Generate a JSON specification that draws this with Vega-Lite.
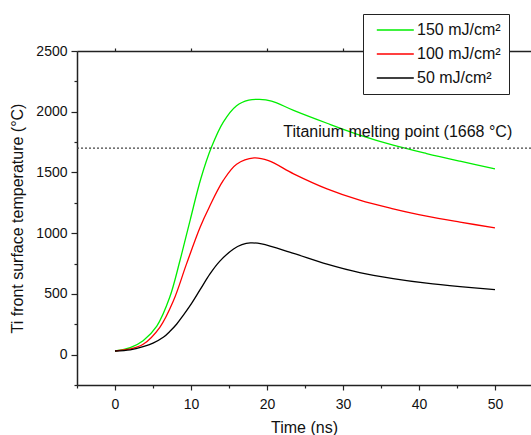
{
  "$schema": "https://vega.github.io/schema/vega-lite/v6.json",
  "width": 454,
  "height": 334,
  "autosize": {"type": "none"},
  "padding": {"left": 77, "top": 51, "right": 0, "bottom": 50},
  "background": "white",
  "config": {
    "view": {"stroke": null},
    "font": "Liberation Sans",
    "axis": {"grid": false, "domainColor": "#222", "tickColor": "#222", "labelColor": "#111", "titleColor": "#111", "domainWidth": 1.5, "tickWidth": 1.2, "titleFontWeight": "normal", "labelFont": "Liberation Sans", "titleFont": "Liberation Sans"}
  },
  "datasets": {
    "curves": [
      {"t": 0, "T": 30, "s": "150 mJ/cm²"},
      {"t": 2, "T": 58, "s": "150 mJ/cm²"},
      {"t": 3.7, "T": 115, "s": "150 mJ/cm²"},
      {"t": 5.5, "T": 235, "s": "150 mJ/cm²"},
      {"t": 7.2, "T": 472, "s": "150 mJ/cm²"},
      {"t": 8.55, "T": 775, "s": "150 mJ/cm²"},
      {"t": 9.9, "T": 1110, "s": "150 mJ/cm²"},
      {"t": 11.3, "T": 1450, "s": "150 mJ/cm²"},
      {"t": 12.7, "T": 1709, "s": "150 mJ/cm²"},
      {"t": 14.25, "T": 1915, "s": "150 mJ/cm²"},
      {"t": 16, "T": 2050, "s": "150 mJ/cm²"},
      {"t": 17.6, "T": 2095, "s": "150 mJ/cm²"},
      {"t": 19, "T": 2102, "s": "150 mJ/cm²"},
      {"t": 20.6, "T": 2088, "s": "150 mJ/cm²"},
      {"t": 23.5, "T": 2011, "s": "150 mJ/cm²"},
      {"t": 27.9, "T": 1905, "s": "150 mJ/cm²"},
      {"t": 32.2, "T": 1808, "s": "150 mJ/cm²"},
      {"t": 36.6, "T": 1725, "s": "150 mJ/cm²"},
      {"t": 41, "T": 1656, "s": "150 mJ/cm²"},
      {"t": 45.4, "T": 1593, "s": "150 mJ/cm²"},
      {"t": 50, "T": 1530, "s": "150 mJ/cm²"},
      {"t": 0, "T": 30, "s": "100 mJ/cm²"},
      {"t": 2, "T": 47, "s": "100 mJ/cm²"},
      {"t": 3.7, "T": 85, "s": "100 mJ/cm²"},
      {"t": 5.9, "T": 225, "s": "100 mJ/cm²"},
      {"t": 7.7, "T": 445, "s": "100 mJ/cm²"},
      {"t": 9.4, "T": 745, "s": "100 mJ/cm²"},
      {"t": 11.2, "T": 1049, "s": "100 mJ/cm²"},
      {"t": 12.4, "T": 1214, "s": "100 mJ/cm²"},
      {"t": 14.25, "T": 1434, "s": "100 mJ/cm²"},
      {"t": 16, "T": 1568, "s": "100 mJ/cm²"},
      {"t": 18.3, "T": 1620, "s": "100 mJ/cm²"},
      {"t": 20.2, "T": 1597, "s": "100 mJ/cm²"},
      {"t": 23.5, "T": 1489, "s": "100 mJ/cm²"},
      {"t": 27.9, "T": 1365, "s": "100 mJ/cm²"},
      {"t": 32.2, "T": 1272, "s": "100 mJ/cm²"},
      {"t": 36.6, "T": 1201, "s": "100 mJ/cm²"},
      {"t": 41, "T": 1140, "s": "100 mJ/cm²"},
      {"t": 45.4, "T": 1091, "s": "100 mJ/cm²"},
      {"t": 50, "T": 1044, "s": "100 mJ/cm²"},
      {"t": 0, "T": 30, "s": "50 mJ/cm²"},
      {"t": 2, "T": 40, "s": "50 mJ/cm²"},
      {"t": 3.7, "T": 66, "s": "50 mJ/cm²"},
      {"t": 5, "T": 95, "s": "50 mJ/cm²"},
      {"t": 6.4, "T": 145, "s": "50 mJ/cm²"},
      {"t": 7.2, "T": 190, "s": "50 mJ/cm²"},
      {"t": 8.1, "T": 250, "s": "50 mJ/cm²"},
      {"t": 9, "T": 325, "s": "50 mJ/cm²"},
      {"t": 9.9, "T": 405, "s": "50 mJ/cm²"},
      {"t": 11.2, "T": 535, "s": "50 mJ/cm²"},
      {"t": 12.5, "T": 665, "s": "50 mJ/cm²"},
      {"t": 13.8, "T": 770, "s": "50 mJ/cm²"},
      {"t": 15.6, "T": 870, "s": "50 mJ/cm²"},
      {"t": 16.7, "T": 905, "s": "50 mJ/cm²"},
      {"t": 17.8, "T": 920, "s": "50 mJ/cm²"},
      {"t": 19.3, "T": 912, "s": "50 mJ/cm²"},
      {"t": 23.5, "T": 833, "s": "50 mJ/cm²"},
      {"t": 27.9, "T": 745, "s": "50 mJ/cm²"},
      {"t": 32.2, "T": 675, "s": "50 mJ/cm²"},
      {"t": 36.6, "T": 626, "s": "50 mJ/cm²"},
      {"t": 41, "T": 588, "s": "50 mJ/cm²"},
      {"t": 45.4, "T": 560, "s": "50 mJ/cm²"},
      {"t": 50, "T": 536, "s": "50 mJ/cm²"}
    ],
    "melt": [{"T": 1700}],
    "note": [{"t": 37.2, "T": 1795, "label": "Titanium melting point (1668 °C)"}]
  },
  "layer": [
    {
      "data": {"name": "curves"},
      "mark": {"type": "line", "interpolate": "catmull-rom", "strokeWidth": 1.3},
      "encoding": {
        "x": {"field": "t", "type": "quantitative", "scale": {"domain": [-5, 54.74], "nice": false, "zero": false},
          "axis": {"orient": "bottom", "values": [0, 10, 20, 30, 40, 50], "tickSize": 5, "labelPadding": 7, "labelFontSize": 14, "title": "Time (ns)", "titleFontSize": 16, "titlePadding": 8}},
        "y": {"field": "T", "type": "quantitative", "scale": {"domain": [-250, 2500], "nice": false, "zero": false},
          "axis": {"orient": "left", "values": [0, 500, 1000, 1500, 2000, 2500], "format": "d", "tickSize": 6, "labelPadding": 4, "labelFontSize": 14, "title": "Ti front surface temperature (°C)", "titleFontSize": 16, "titlePadding": 10}},
        "color": {"field": "s", "type": "nominal",
          "scale": {"domain": ["150 mJ/cm²", "100 mJ/cm²", "50 mJ/cm²"], "range": ["#00ee00", "#ff0000", "#000000"]},
          "legend": {"title": null, "orient": "none", "legendX": 286, "legendY": -37, "symbolType": "M-3,0H3", "symbolSize": 152, "symbolOffset": 16.3, "symbolStrokeWidth": 1.5, "labelFontSize": 16, "labelOffset": 13.7, "labelColor": "#111", "rowPadding": 8, "padding": 8, "strokeColor": "#222", "fillColor": "white", "labelLimit": 200}}
      }
    },
    {
      "data": {"name": "melt"},
      "mark": {"type": "rule", "strokeDash": [2, 2], "strokeWidth": 1.2, "color": "#444"},
      "encoding": {
        "y": {"field": "T", "type": "quantitative",
          "axis": {"orient": "left", "values": [-250, 250, 750, 1250, 1750, 2250], "tickSize": 3, "labels": false, "domain": false, "title": null}}
      }
    },
    {
      "data": {"name": "note"},
      "mark": {"type": "text", "fontSize": 16, "color": "#111", "align": "center", "baseline": "alphabetic"},
      "encoding": {
        "x": {"field": "t", "type": "quantitative",
          "axis": {"orient": "bottom", "values": [-5, 5, 15, 25, 35, 45], "tickSize": 3, "labels": false, "domain": false, "title": null}},
        "y": {"field": "T", "type": "quantitative", "axis": null},
        "text": {"field": "label"}
      }
    },
    {
      "data": {"name": "note"},
      "mark": {"type": "point", "opacity": 0},
      "encoding": {
        "x": {"field": "t", "type": "quantitative",
          "axis": {"orient": "top", "values": [0, 10, 20, 30, 40, 50], "tickSize": 3, "labels": false, "title": null}},
        "y": {"field": "T", "type": "quantitative", "axis": null}
      }
    }
  ],
  "resolve": {"scale": {"x": "shared", "y": "shared"}, "axis": {"x": "independent", "y": "independent"}}
}
